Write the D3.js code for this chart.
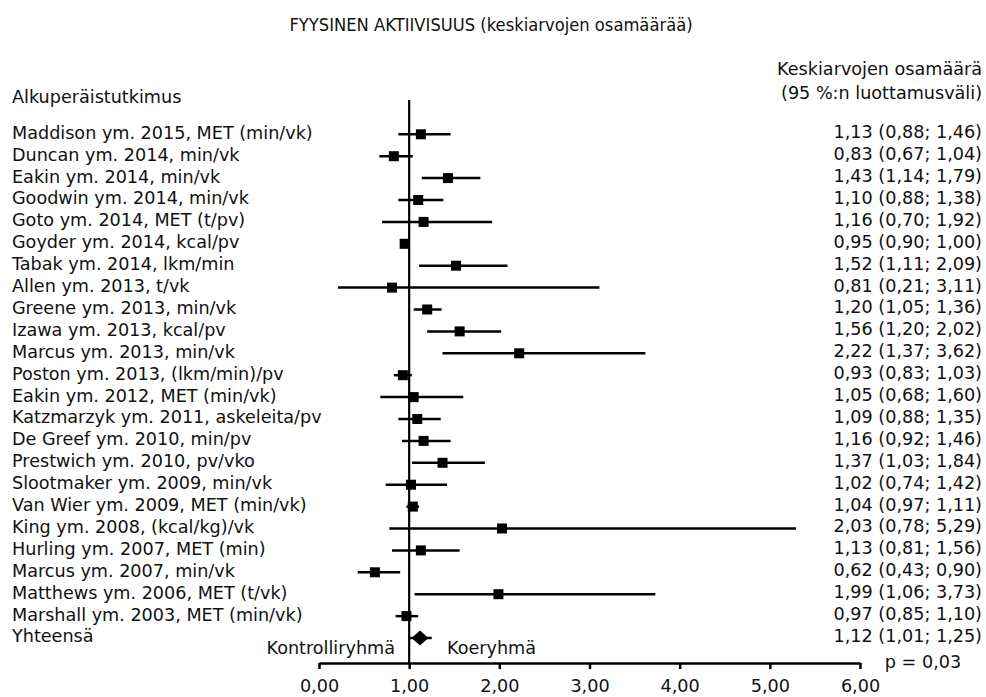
<!DOCTYPE html>
<html>
<head>
<meta charset="utf-8">
<script src="https://cdn.jsdelivr.net/npm/d3@7"></script>
<style>
  html, body { margin: 0; padding: 0; background: #fff; }
  svg text { font-family: "DejaVu Sans", sans-serif; fill: #111; }
</style>
</head>
<body>
<svg id="chart" width="986" height="697"></svg>
<script>
const title = "FYYSINEN AKTIIVISUUS (keskiarvojen osamäärää)";
const studyHeader = "Alkuperäistutkimus";
const valueHeader = ["Keskiarvojen osamäärä", "(95 %:n luottamusväli)"];

const studies = [
  "Maddison ym. 2015, MET (min/vk)",
  "Duncan ym. 2014, min/vk",
  "Eakin ym. 2014, min/vk",
  "Goodwin ym. 2014, min/vk",
  "Goto ym. 2014, MET (t/pv)",
  "Goyder ym. 2014, kcal/pv",
  "Tabak ym. 2014, lkm/min",
  "Allen ym. 2013, t/vk",
  "Greene ym. 2013, min/vk",
  "Izawa ym. 2013, kcal/pv",
  "Marcus ym. 2013, min/vk",
  "Poston ym. 2013, (lkm/min)/pv",
  "Eakin ym. 2012, MET (min/vk)",
  "Katzmarzyk ym. 2011, askeleita/pv",
  "De Greef ym. 2010, min/pv",
  "Prestwich ym. 2010, pv/vko",
  "Slootmaker ym. 2009, min/vk",
  "Van Wier ym. 2009, MET (min/vk)",
  "King ym. 2008, (kcal/kg)/vk",
  "Hurling ym. 2007, MET (min)",
  "Marcus ym. 2007, min/vk",
  "Matthews ym. 2006, MET (t/vk)",
  "Marshall ym. 2003, MET (min/vk)"
];
const estimates = [1.13, 0.83, 1.43, 1.10, 1.16, 0.95, 1.52, 0.81, 1.20, 1.56, 2.22, 0.93, 1.05, 1.09, 1.16, 1.37, 1.02, 1.04, 2.03, 1.13, 0.62, 1.99, 0.97];
const lower     = [0.88, 0.67, 1.14, 0.88, 0.70, 0.90, 1.11, 0.21, 1.05, 1.20, 1.37, 0.83, 0.68, 0.88, 0.92, 1.03, 0.74, 0.97, 0.78, 0.81, 0.43, 1.06, 0.85];
const upper     = [1.46, 1.04, 1.79, 1.38, 1.92, 1.00, 2.09, 3.11, 1.36, 2.02, 3.62, 1.03, 1.60, 1.35, 1.46, 1.84, 1.42, 1.11, 5.29, 1.56, 0.90, 3.73, 1.10];

const totalLabel = "Yhteensä";
const totalEstimate = 1.12, totalLower = 1.01, totalUpper = 1.25;
const pValueLabel = "p = 0,03";
const leftSideLabel = "Kontrolliryhmä";
const rightSideLabel = "Koeryhmä";
const axisTicks = [0, 1, 2, 3, 4, 5, 6];

const fmt = v => v.toFixed(2).replace(".", ",");

const svg = d3.select("#chart");
const x = d3.scaleLinear().domain([0, 6]).range([319, 860]);
const nRows = studies.length + 1;
const y = d3.scaleLinear().domain([0, nRows - 1]).range([134.3, 134.3 + 21.9 * (nRows - 1)]);
const axisY = 663;
const FS = 18.5;

// Title
svg.append("text").attr("x", 491).attr("y", 31.5).attr("text-anchor", "middle")
  .attr("font-size", 17.2).text(title);

// Headers
svg.append("text").attr("x", 12).attr("y", 103).attr("font-size", FS).text(studyHeader);
svg.selectAll("text.vh").data(valueHeader).join("text").attr("class", "vh")
  .attr("x", 982).attr("y", (d, i) => 75 + i * 24.5).attr("text-anchor", "end")
  .attr("font-size", FS).text(d => d);

// Reference line at 1
svg.append("line").attr("x1", x(1)).attr("x2", x(1)).attr("y1", 100).attr("y2", axisY)
  .attr("stroke", "#000").attr("stroke-width", 2.2);

const rows = studies.map((s, i) => ({ s, est: estimates[i], lo: lower[i], hi: upper[i], i }));

// CI lines
svg.selectAll("line.ci").data(rows).join("line").attr("class", "ci")
  .attr("x1", d => x(d.lo)).attr("x2", d => x(d.hi))
  .attr("y1", d => y(d.i)).attr("y2", d => y(d.i))
  .attr("stroke", "#000").attr("stroke-width", 2.5);

// Squares
const sq = 10;
svg.selectAll("rect.pt").data(rows).join("rect").attr("class", "pt")
  .attr("x", d => x(d.est) - sq / 2).attr("y", d => y(d.i) - sq / 2)
  .attr("width", sq).attr("height", sq).attr("fill", "#000");

// Study labels
svg.selectAll("text.study").data(rows).join("text").attr("class", "study")
  .attr("x", 12).attr("y", d => y(d.i) + 4.5).attr("font-size", FS).text(d => d.s);

// Values
svg.selectAll("text.val").data(rows).join("text").attr("class", "val")
  .attr("x", 982).attr("y", d => y(d.i) + 4).attr("text-anchor", "end").attr("font-size", FS)
  .text(d => `${fmt(d.est)} (${fmt(d.lo)}; ${fmt(d.hi)})`);

// Total row
const ti = studies.length;
const ty = y(ti);
svg.append("line").attr("x1", x(totalLower)).attr("x2", x(totalUpper)).attr("y1", ty).attr("y2", ty)
  .attr("stroke", "#000").attr("stroke-width", 2.5);
const dx = 8.5, dy = 7.5, cx = x(totalEstimate);
svg.append("path").attr("d", `M${cx - dx},${ty} L${cx},${ty - dy} L${cx + dx},${ty} L${cx},${ty + dy} Z`).attr("fill", "#000");
svg.append("text").attr("x", 12).attr("y", ty + 4.5).attr("font-size", FS).text(totalLabel);
svg.append("text").attr("x", 982).attr("y", ty + 4).attr("text-anchor", "end").attr("font-size", FS)
  .text(`${fmt(totalEstimate)} (${fmt(totalLower)}; ${fmt(totalUpper)})`);

// Side labels
svg.append("text").attr("x", 395).attr("y", 654).attr("text-anchor", "end").attr("font-size", FS).text(leftSideLabel);
svg.append("text").attr("x", 447).attr("y", 654).attr("font-size", FS).text(rightSideLabel);
svg.append("text").attr("x", 923).attr("y", 668).attr("text-anchor", "middle").attr("font-size", FS).text(pValueLabel);

// Axis
const axis = d3.axisBottom(x).tickValues(axisTicks).tickFormat(fmt).tickSize(6).tickSizeOuter(0);
const ag = svg.append("g").attr("transform", `translate(0,${axisY})`).call(axis);
ag.select(".domain").attr("stroke", "#000").attr("stroke-width", 2.5);
ag.selectAll(".tick line").attr("stroke", "#000").attr("stroke-width", 2.5);
ag.selectAll(".tick text").attr("font-size", FS).attr("font-family", null).attr("fill", "#111")
  .attr("dy", null).attr("y", 29);

// Condense glyphs horizontally so text widths match the reference's narrow face
const ref = svg.select("text.study").node();
const target = 301; // width of the first study label in the reference
const s = target / ref.getComputedTextLength();
svg.selectAll("text").each(function () {
  const el = d3.select(this);
  const tx = +el.attr("x") || 0;
  el.attr("transform", `translate(${tx * (1 - s)},0) scale(${s},1)`);
});
</script>
</body>
</html>
